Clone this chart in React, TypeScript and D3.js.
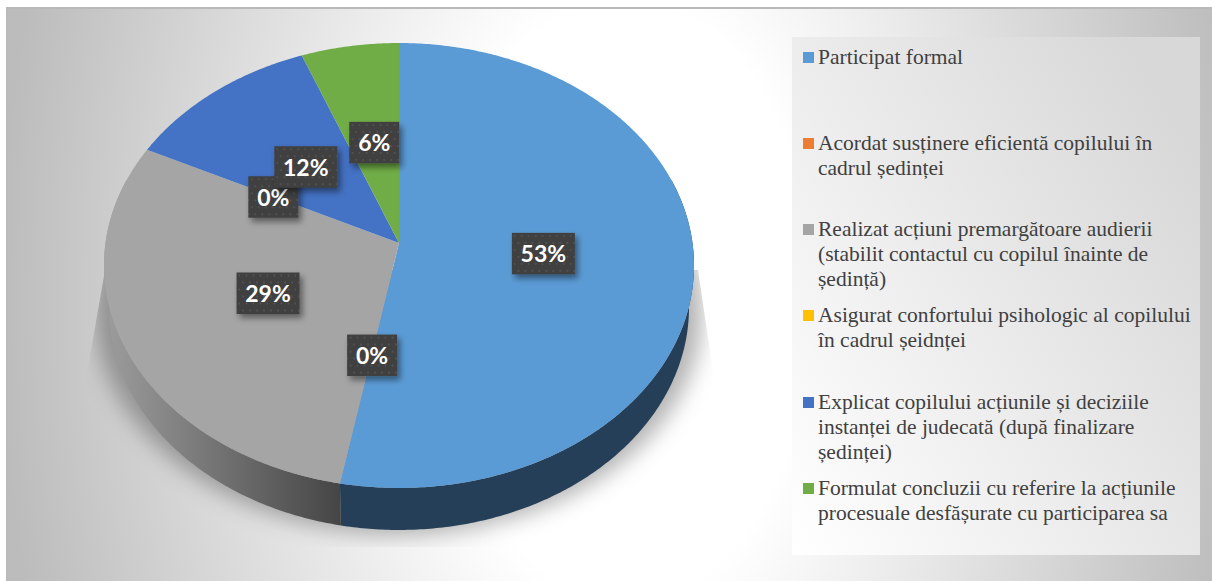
import React, { useRef, useEffect } from "react";
import * as d3 from "d3";

const categories = [
  "Participat formal",
  "Acordat susținere eficientă copilului în cadrul ședinței",
  "Realizat acțiuni premargătoare audierii (stabilit contactul cu copilul înainte de ședință)",
  "Asigurat confortului psihologic al copilului în cadrul șeidnței",
  "Explicat copilului acțiunile și deciziile instanței de judecată (după finalizare ședinței)",
  "Formulat concluzii cu referire la acțiunile procesuale desfășurate cu participarea sa",
];
const values = [52.9, 0, 29.4, 0, 11.8, 5.9];
const valueLabels = ["53%", "0%", "29%", "0%", "12%", "6%"];
const colors = ["#5b9bd5", "#ed7d31", "#a5a5a5", "#ffc000", "#4472c4", "#70ad47"];
const sideColors = ["#243f57", "#8a4a1d", "url(#graySide)", "#997300", "#29446f", "#43682b"];
const legendLines = [
  ["Participat formal"],
  ["Acordat susținere eficientă copilului în", "cadrul ședinței"],
  ["Realizat acțiuni premargătoare audierii", "(stabilit contactul cu copilul înainte de", "ședință)"],
  ["Asigurat confortului psihologic al copilului", "în cadrul șeidnței"],
  ["Explicat copilului acțiunile și deciziile", "instanței de judecată (după finalizare", "ședinței)"],
  ["Formulat concluzii cu referire la acțiunile", "procesuale desfășurate cu participarea sa"],
];
const legendTops = [52, 138, 224, 310, 397, 483];

const width = 1212;
const height = 581;
const cx = 399;
const cy = 243;
// perspective of the tilted disc
const tilt = 0.1011;
const radiusX = 293.5;
const radiusY = 220.2;
const depth = 42;
const bottomShrink = 0.983;

function project(angle: number, r = 1) {
  const u = Math.sin(angle) * r;
  const v = -Math.cos(angle) * r;
  const w = 1 - tilt * v;
  return [cx + (radiusX * u) / w, cy + (radiusY * v) / w];
}

function projectBottom(angle: number) {
  const [x, y] = project(angle);
  return [cx + (x - cx) * bottomShrink, y + depth];
}

function arcAngles(start: number, end: number) {
  const steps = Math.max(2, Math.ceil((end - start) / 0.01));
  return d3.range(steps + 1).map((i) => start + ((end - start) * i) / steps);
}

const App = () => {
  const svgRef = useRef<SVGSVGElement>(null);

  useEffect(() => {
    const svg = d3.select(svgRef.current);
    svg.selectAll("*").remove();

    const defs = svg.append("defs");

    const bg = defs.append("radialGradient")
      .attr("id", "panelBg")
      .attr("gradientUnits", "userSpaceOnUse")
      .attr("cx", 0).attr("cy", 0).attr("r", 1)
      .attr("gradientTransform", "translate(625,300) scale(625,1000)");
    bg.append("stop").attr("offset", 0.3).attr("stop-color", "#ffffff");
    bg.append("stop").attr("offset", 1).attr("stop-color", "#bcbcbc");

    const legendBg = defs.append("linearGradient")
      .attr("id", "legendBg")
      .attr("x1", 0).attr("y1", 1).attr("x2", 1).attr("y2", 0.25);
    legendBg.append("stop").attr("offset", 0).attr("stop-color", "#ffffff");
    legendBg.append("stop").attr("offset", 1).attr("stop-color", "#d8d8d8");

    const graySide = defs.append("linearGradient")
      .attr("id", "graySide")
      .attr("gradientUnits", "userSpaceOnUse")
      .attr("x1", 107).attr("y1", 0).attr("x2", 341).attr("y2", 0);
    graySide.append("stop").attr("offset", 0).attr("stop-color", "#9c9c9c");
    graySide.append("stop").attr("offset", 1).attr("stop-color", "#454545");

    const dots = defs.append("pattern")
      .attr("id", "labelDots")
      .attr("patternUnits", "userSpaceOnUse")
      .attr("width", 14).attr("height", 14);
    dots.append("rect").attr("width", 14).attr("height", 14).attr("fill", "#3f3f3f");
    [[3, 3], [10, 3], [6.5, 10], [13.5, 10]].forEach(([x, y]) => {
      dots.append("circle").attr("cx", x).attr("cy", y).attr("r", 1.1).attr("fill", "#555555");
    });

    defs.append("filter").attr("id", "pieBlur")
      .attr("x", "-20%").attr("y", "-20%").attr("width", "140%").attr("height", "140%")
      .append("feGaussianBlur").attr("stdDeviation", 11);

    const labelShadow = defs.append("filter").attr("id", "labelShadow")
      .attr("x", "-30%").attr("y", "-30%").attr("width", "170%").attr("height", "170%");
    labelShadow.append("feDropShadow")
      .attr("dx", 3).attr("dy", 4).attr("stdDeviation", 3)
      .attr("flood-color", "#000").attr("flood-opacity", 0.45);

    // the chart's shadow is cut off by its plot frame
    const frame = [[105, 270], [85, 385], [85, 547], [715, 547], [715, 385], [698, 270]];
    defs.append("clipPath").attr("id", "shadowClip")
      .append("polygon").attr("points", frame.join(" "));

    svg.append("rect")
      .attr("x", 6).attr("y", 7)
      .attr("width", width - 6).attr("height", height - 7)
      .attr("fill", "url(#panelBg)");
    svg.append("rect")
      .attr("x", 6).attr("y", 7)
      .attr("width", width - 6).attr("height", 2)
      .attr("fill", "#b9b9b9");
    svg.append("rect")
      .attr("x", 6).attr("y", 7)
      .attr("width", 1.5).attr("height", height - 7)
      .attr("fill", "#b9b9b9");

    // legend
    svg.append("rect")
      .attr("x", 792).attr("y", 37)
      .attr("width", 408).attr("height", 518)
      .attr("fill", "url(#legendBg)");

    const legendItems = svg.append("g").selectAll("g")
      .data(categories)
      .enter()
      .append("g");
    legendItems.append("rect")
      .attr("x", 803)
      .attr("y", (d, i) => legendTops[i])
      .attr("width", 11).attr("height", 11)
      .attr("fill", (d, i) => colors[i]);
    legendItems.append("text")
      .attr("font-family", "'Liberation Serif', serif")
      .attr("font-size", 21.5)
      .attr("fill", "#404040")
      .selectAll("tspan")
      .data((d, i) => legendLines[i].map((line, j) => ({ line, j, top: legendTops[i] })))
      .enter()
      .append("tspan")
      .attr("x", 818)
      .attr("y", (d) => d.top + 11.5 + d.j * 25)
      .text((d) => d.line);

    // pie
    const slices = d3.pie<number>().sort(null)(values);
    const line = d3.line();

    const outline = d3.range(0, 2 * Math.PI, 0.01)
      .map((a) => projectBottom(a))
      .map(([x, y]) => [cx + (x - cx) * 1.045, y + 4] as [number, number]);
    svg.append("g").attr("clip-path", "url(#shadowClip)")
      .append("path")
      .attr("d", line(outline) + "Z")
      .attr("fill", "#000")
      .attr("fill-opacity", 0.3)
      .attr("filter", "url(#pieBlur)");

    // walls first, the top face covers whatever is behind it
    svg.append("g").selectAll("path")
      .data(slices.filter((s) => s.endAngle > s.startAngle))
      .enter()
      .append("path")
      .attr("d", (s) => {
        const from = Math.max(s.startAngle, Math.PI / 2 - 0.3);
        const to = Math.min(s.endAngle, (3 * Math.PI) / 2 + 0.3);
        if (to <= from) return "";
        const angles = arcAngles(from, to);
        const pts = [
          ...angles.map((a) => project(a)),
          ...angles.slice().reverse().map((a) => projectBottom(a)),
        ];
        return line(pts as [number, number][]) + "Z";
      })
      .attr("fill", (s) => sideColors[s.index]);

    svg.append("g").selectAll("path")
      .data(slices.filter((s) => s.endAngle > s.startAngle))
      .enter()
      .append("path")
      .attr("d", (s) => {
        const pts = [[cx, cy], ...arcAngles(s.startAngle, s.endAngle).map((a) => project(a))];
        return line(pts as [number, number][]) + "Z";
      })
      .attr("fill", (s) => colors[s.index]);

    // data labels sit about half way out along each slice's middle
    const labels = svg.append("g").selectAll("g")
      .data(slices)
      .enter()
      .append("g")
      .attr("transform", (s) => {
        const [x, y] = project((s.startAngle + s.endAngle) / 2, 0.49);
        return `translate(${x + 0.5},${y + 1})`;
      });
    labels.append("rect")
      .attr("x", (s) => -(24 + 13 * valueLabels[s.index].length) / 2)
      .attr("y", -21)
      .attr("width", (s) => 24 + 13 * valueLabels[s.index].length)
      .attr("height", 41.5)
      .attr("fill", "url(#labelDots)")
      .attr("filter", "url(#labelShadow)");
    labels.append("text")
      .attr("text-anchor", "middle")
      .attr("y", 8.5)
      .attr("font-family", "Lato, sans-serif")
      .attr("font-weight", 700)
      .attr("font-size", 23)
      .attr("fill", "#ffffff")
      .text((s) => valueLabels[s.index]);
  }, []);

  return (
    <svg
      ref={svgRef}
      width={width}
      height={height}
      style={{ position: "absolute", left: 0, top: 0 }}
    ></svg>
  );
};

export default App;
